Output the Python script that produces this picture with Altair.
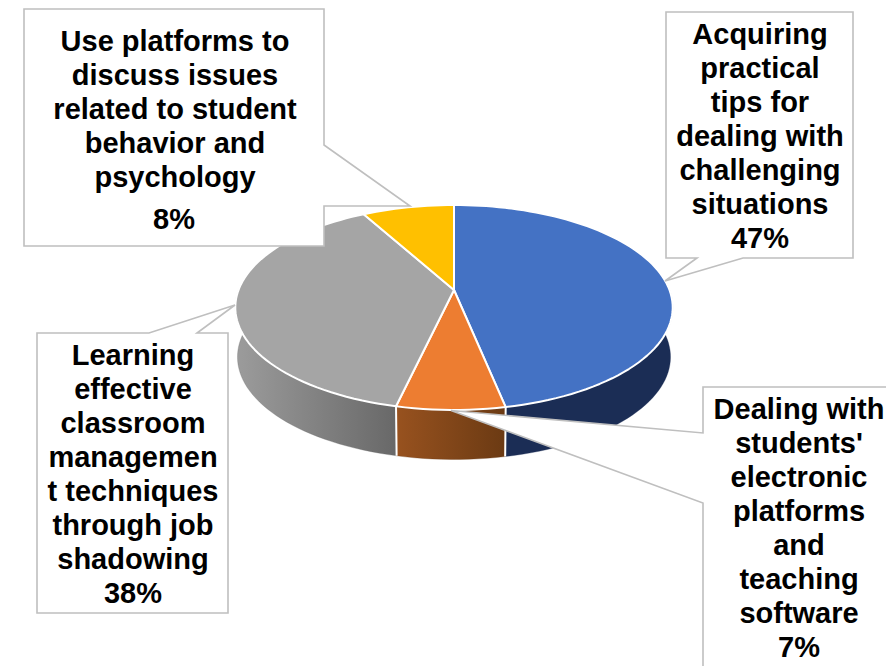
import math
import altair as alt
import pandas as pd

# --- data
categories = [
    "Acquiring practical tips",
    "Dealing with students' platforms",
    "Learning classroom management",
    "Use platforms",
]
shares = [46.8, 6.8, 38.4, 8.0]  # drawn shares; labels print them rounded
top_colors = ["#4472C4", "#ED7D31", "#A5A5A5", "#FFC000"]
wall_stops = [
    ("#1B2D55", "#1B2D55"),
    ("#98521F", "#6B3A13"),
    ("#9C9C9C", "#686868"),
    ("#8A6A00", "#8A6A00"),
]
label_tl = "Use platforms to\ndiscuss issues\nrelated to student\nbehavior and\npsychology"
pct_tl = "8%"
label_tr = "Acquiring\npractical\ntips for\ndealing with\nchallenging\nsituations\n47%"
label_br = "Dealing with\nstudents'\nelectronic\nplatforms\nand\nteaching\nsoftware\n7%"
label_bl = "Learning\neffective\nclassroom\nmanagemen\nt techniques\nthrough job\nshadowing\n38%"

# --- layout (page pixels; the page margin is 8)
M = 8
W, H = 878, 658
CX, CY, A, B, K = 454, 290, 215.5, 99.5, 0.1707
DEPTH, NARROW = 49.5, 0.99
FONT, FS, LH = "Liberation Sans", 29, 34
BOX = "#BFBFBF"

callouts = [
    [(24, 9), (324, 9), (324, 145), (410, 206), (324, 206), (324, 246), (24, 246)],
    [(666, 12), (853, 12), (853, 258), (743, 258), (665, 281), (697, 258), (666, 258)],
    [(703, 387), (893, 387), (893, 700), (703, 700), (703, 503), (451, 410.5), (703, 433)],
    [(37, 333), (149, 333), (235, 305), (197, 333), (228, 333), (228, 613), (37, 613)],
]
text_pos = [(175, 51, label_tl), (174, 229, pct_tl), (760, 44, label_tr),
            (799, 419, label_br), (133, 365, label_bl)]


def rim(theta, lower=False):
    u, v = math.sin(theta), -math.cos(theta)
    w = 1 - K * v
    a = A * NARROW if lower else A
    y0 = CY + DEPTH if lower else CY
    return [CX + a * u / w - M, y0 + B * v / w - M]


def arc_pts(t0, t1, lower=False):
    n = max(2, int(abs(t1 - t0) / math.radians(2)))
    return [rim(t0 + (t1 - t0) * i / n, lower) for i in range(n + 1)]


def geo(coords):
    return {
        "type": "FeatureCollection",
        "features": [{"type": "Feature", "properties": {},
                      "geometry": {"type": "Polygon", "coordinates": [coords + [coords[0]]]}}],
    }


def shape(coords, **mark):
    data = alt.InlineData(values=geo(coords), format=alt.DataFormat(type="json", property="features"))
    return alt.Chart(data).mark_geoshape(**mark).project(type="identity", scale=1, translate=[0, 0])


layers = []
walls, seps, tops = [], [], []
start = 0.0
for share, color, (c0, c1) in zip(shares, top_colors, wall_stops):
    end = start + share / 100 * 2 * math.pi
    t0, t1 = max(start, math.radians(80)), min(end, math.radians(280))
    if t1 > t0:
        fill = alt.LinearGradient(
            gradient="linear", x1=0, y1=0, x2=1, y2=0,
            stops=[alt.GradientStop(color=c0, offset=0), alt.GradientStop(color=c1, offset=1)],
        )
        walls.append(shape(arc_pts(t0, t1) + arc_pts(t1, t0, True), fill=fill,
                           stroke=c1, strokeWidth=0.3))
    if math.radians(100) < end < math.radians(260):
        seps.append(shape([rim(end), rim(end, True)], fill="#FFFFFF",
                          stroke="#FFFFFF", strokeWidth=2))
    tops.append(shape([[CX - M, CY - M]] + arc_pts(start, end), fill=color,
                      stroke="#FFFFFF", strokeWidth=2, strokeJoin="round"))
    start = end

layers += walls + seps + tops
for pts in callouts:
    layers.append(shape([[x - M, y - M] for x, y in pts], fill="#FFFFFF",
                        stroke=BOX, strokeWidth=1.6))
for x, y, txt in text_pos:
    layers.append(
        alt.Chart(pd.DataFrame({"label": [txt]}))
        .mark_text(font=FONT, fontSize=FS, fontWeight="bold", color="#000000",
                   align="center", baseline="alphabetic", lineBreak="\n", lineHeight=LH)
        .encode(x=alt.value(x - M), y=alt.value(y - M), text="label:N")
    )

chart = (
    alt.layer(*layers)
    .properties(width=W, height=H, padding=0, background="#FFFFFF")
    .configure_view(stroke=None)
)
chart.save("out.html", embed_options={"renderer": "svg", "actions": False})
